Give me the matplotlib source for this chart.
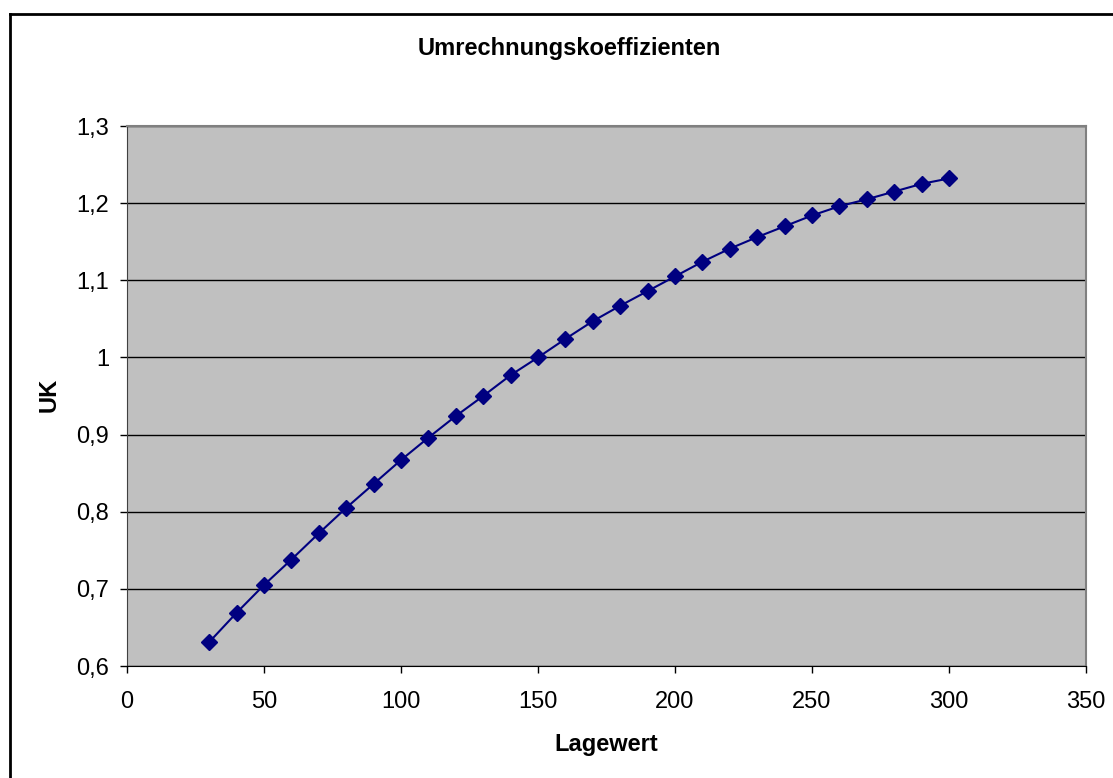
import matplotlib

matplotlib.use("Agg")
import matplotlib.pyplot as plt
from matplotlib.lines import Line2D

plt.rcParams["font.family"] = ["Liberation Sans", "DejaVu Sans"]

lagewert = [30, 40, 50, 60, 70, 80, 90, 100, 110, 120, 130, 140, 150, 160,
            170, 180, 190, 200, 210, 220, 230, 240, 250, 260, 270, 280, 290, 300]
uk = [0.631, 0.669, 0.705, 0.738, 0.772, 0.805, 0.836, 0.867, 0.896, 0.924,
      0.950, 0.977, 1.000, 1.024, 1.047, 1.067, 1.086, 1.105, 1.124, 1.141,
      1.156, 1.170, 1.184, 1.196, 1.205, 1.215, 1.225, 1.232]
y_ticks = [0.6, 0.7, 0.8, 0.9, 1.0, 1.1, 1.2, 1.3]
y_labels = ["0,6", "0,7", "0,8", "0,9", "1", "1,1", "1,2", "1,3"]
x_ticks = [0, 50, 100, 150, 200, 250, 300, 350]

W, H = 1113, 778
fig = plt.figure(figsize=(W / 100, H / 100), dpi=100)
ax = fig.add_axes([127 / W, 1 - 666 / H, (1086 - 127) / W, (666 - 126) / H])
ax.set_facecolor("#c0c0c0")

ax.plot(lagewert, uk, color="#000080", linewidth=1.5, marker="D",
        markersize=8, zorder=3)

ax.set_xlim(0, 350)
ax.set_ylim(0.6, 1.3)
ax.set_xticks(x_ticks)
ax.set_yticks(y_ticks)
ax.set_yticklabels(y_labels)
ax.tick_params(labelsize=17, direction="out", length=5, width=1)
ax.tick_params(axis="x", pad=13)
ax.tick_params(axis="y", pad=8)
ax.yaxis.grid(True, color="black", linewidth=1)
ax.set_axisbelow(True)

for side in ("top", "right"):
    ax.spines[side].set_color("#808080")
    ax.spines[side].set_linewidth(1.5)
ax.spines["left"].set_color("#404040")
ax.spines["bottom"].set_color("black")

fig.text(569 / W, 1 - 48 / H, "Umrechnungskoeffizienten", fontsize=17,
         fontweight="bold", ha="center", va="center")
fig.text(606 / W, 1 - 745 / H, "Lagewert", fontsize=17,
         fontweight="bold", ha="center", va="center")
fig.text(49 / W, 1 - 395 / H, "UK", fontsize=17, fontweight="bold",
         ha="center", va="center", rotation=90)

# chart frame (clipped on the right and bottom)
fig.add_artist(Line2D([10 / W, 1.0], [1 - 14 / H, 1 - 14 / H],
                      transform=fig.transFigure, color="black", linewidth=2))
fig.add_artist(Line2D([10 / W, 10 / W], [0.0, 1 - 14 / H],
                      transform=fig.transFigure, color="black", linewidth=2))

fig.savefig("out.png", dpi=100)
